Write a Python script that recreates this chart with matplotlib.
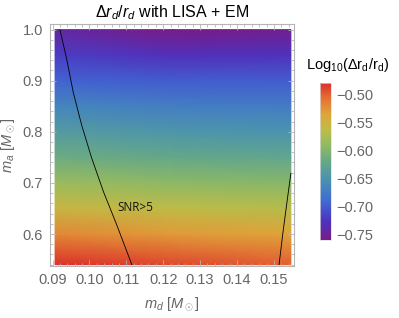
import numpy as np
import matplotlib
matplotlib.use("Agg")
import matplotlib.pyplot as plt
from matplotlib.colors import LinearSegmentedColormap
from matplotlib.ticker import MultipleLocator

plt.rcParams['font.family'] = ['Liberation Sans', 'DejaVu Sans']
plt.rcParams['mathtext.fontset'] = 'custom'
plt.rcParams['mathtext.rm'] = 'Liberation Sans'
plt.rcParams['mathtext.it'] = 'Liberation Sans:italic'

# ---- data ----
md_cols = [0.0907, 0.1226, 0.1546]
ma_rows = [0.54, 0.60, 0.65, 0.70, 0.75, 0.80, 0.85, 0.90, 0.95, 1.00]
logdr_left = [-0.480, -0.520, -0.555, -0.585, -0.615, -0.640, -0.665, -0.695, -0.720, -0.745]
logdr_mid = [-0.490, -0.530, -0.563, -0.593, -0.622, -0.647, -0.672, -0.700, -0.730, -0.760]
logdr_right = [-0.500, -0.535, -0.568, -0.597, -0.625, -0.650, -0.675, -0.700, -0.728, -0.755]

snr_left_md = [0.0920, 0.0938, 0.0956, 0.0979, 0.1006, 0.1038, 0.1074, 0.1115]
snr_left_ma = [1.000, 0.944, 0.878, 0.813, 0.749, 0.683, 0.618, 0.540]
snr_right_md = [0.1514, 0.1524, 0.1535, 0.1546]
snr_right_ma = [0.540, 0.600, 0.660, 0.719]

xticks = [0.09, 0.10, 0.11, 0.12, 0.13, 0.14, 0.15]
yticks = [0.6, 0.7, 0.8, 0.9, 1.0]
cbar_ticks = [-0.50, -0.55, -0.60, -0.65, -0.70, -0.75]
vmin, vmax = -0.7607, -0.480

cmap = LinearSegmentedColormap.from_list("mma_rainbow", [
    (0.00, (0.47, 0.11, 0.53)),
    (0.12, (0.30, 0.20, 0.75)),
    (0.25, (0.25, 0.42, 0.83)),
    (0.38, (0.28, 0.57, 0.70)),
    (0.50, (0.40, 0.66, 0.53)),
    (0.60, (0.56, 0.73, 0.39)),
    (0.70, (0.74, 0.74, 0.28)),
    (0.80, (0.87, 0.65, 0.23)),
    (0.90, (0.90, 0.45, 0.20)),
    (1.00, (0.86, 0.19, 0.17)),
])

W, H = 399, 318
fig = plt.figure(figsize=(W/100, H/100), dpi=100)
ax = fig.add_axes([50/W, (H-266)/H, 244/W, 242/H])

Z = np.array([logdr_left, logdr_mid, logdr_right]).T
X, Y = np.meshgrid(md_cols, ma_rows)
pm = ax.pcolormesh(X, Y, Z, cmap=cmap, vmin=vmin, vmax=vmax, shading='gouraud')

ax.plot(snr_left_md, snr_left_ma, color='black', lw=0.6)
ax.plot(snr_right_md, snr_right_ma, color='black', lw=0.6)
ax.text(0.1124, 0.651, "SNR>5", fontsize=8.5, ha='center', va='center',
        family=['Open Sans', 'DejaVu Sans'], color='#111111')

ax.set_xlim(0.08932, 0.15545)
ax.set_ylim(0.5374, 1.011)
ax.set_xticks(xticks)
ax.set_xticklabels([f"{t:.2f}" for t in xticks])
ax.set_yticks(yticks)
ax.set_yticklabels([f"{t:.1f}" for t in yticks])
ax.xaxis.set_minor_locator(MultipleLocator(0.002))
ax.yaxis.set_minor_locator(MultipleLocator(0.02))
gray = '#b5b5b5'
for s in ax.spines.values():
    s.set_color(gray)
    s.set_linewidth(0.8)
ax.tick_params(which='both', direction='in', top=True, right=True, color=gray,
               labelcolor='#666666', labelsize=10.5, width=0.6)
ax.tick_params(which='major', length=4, pad=5)
ax.tick_params(which='minor', length=2)

ax.set_xlabel(r"$m_d$ [$M_\odot$]", color='#666666', fontsize=10.5, labelpad=6)
ax.set_ylabel(r"$m_a$ [$M_\odot$]", color='#666666', fontsize=10.5, labelpad=4)
ax.set_title(r"$\Delta r_d/r_d$ with LISA + EM", fontsize=11.5, pad=5)

cax = fig.add_axes([320/W, (H-240)/H, 11/W, 157/H])
cb = fig.colorbar(pm, cax=cax, ticks=cbar_ticks)
cb.outline.set_edgecolor('#dddddd')
cb.outline.set_linewidth(0.5)
cax.tick_params(length=0, labelsize=10.5, labelcolor='#666666', pad=4)
cax.set_yticklabels([f"\u2212{abs(t):.2f}" for t in cbar_ticks])
fig.text(348/W, 1-65/H, r"Log$_{10}$($\Delta$r$_\mathrm{d}$/r$_\mathrm{d}$)",
         ha='center', va='center', fontsize=10.5)

fig.savefig("out.png", dpi=100)
